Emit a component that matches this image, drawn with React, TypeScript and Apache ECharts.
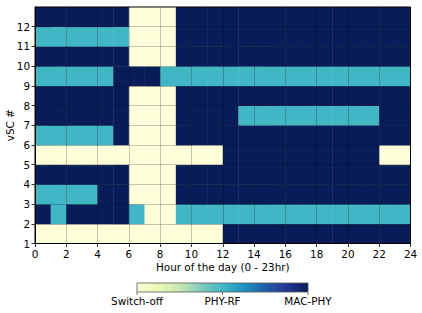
import React, { useEffect, useRef } from "react";
import * as echarts from "echarts";

// Hour-of-day columns 0..23, rows vSC 1..12; 0 = Switch-off, 1 = PHY-RF, 2 = MAC-PHY
const hourTicks = [0, 2, 4, 6, 8, 10, 12, 14, 16, 18, 20, 22, 24];
const vscTicks = [1, 2, 3, 4, 5, 6, 7, 8, 9, 10, 11, 12];
const stateLabels = ["Switch-off", "PHY-RF", "MAC-PHY"];

const vsc1 = [0, 0, 0, 0, 0, 0, 0, 0, 0, 0, 0, 0, 2, 2, 2, 2, 2, 2, 2, 2, 2, 2, 2, 2];
const vsc2 = [2, 1, 2, 2, 2, 2, 1, 0, 0, 1, 1, 1, 1, 1, 1, 1, 1, 1, 1, 1, 1, 1, 1, 1];
const vsc3 = [1, 1, 1, 1, 2, 2, 0, 0, 0, 2, 2, 2, 2, 2, 2, 2, 2, 2, 2, 2, 2, 2, 2, 2];
const vsc4 = [2, 2, 2, 2, 2, 2, 0, 0, 0, 2, 2, 2, 2, 2, 2, 2, 2, 2, 2, 2, 2, 2, 2, 2];
const vsc5 = [0, 0, 0, 0, 0, 0, 0, 0, 0, 0, 0, 0, 2, 2, 2, 2, 2, 2, 2, 2, 2, 2, 0, 0];
const vsc6 = [1, 1, 1, 1, 1, 2, 0, 0, 0, 2, 2, 2, 2, 2, 2, 2, 2, 2, 2, 2, 2, 2, 2, 2];
const vsc7 = [2, 2, 2, 2, 2, 2, 0, 0, 0, 2, 2, 2, 2, 1, 1, 1, 1, 1, 1, 1, 1, 1, 2, 2];
const vsc8 = [2, 2, 2, 2, 2, 2, 0, 0, 0, 2, 2, 2, 2, 2, 2, 2, 2, 2, 2, 2, 2, 2, 2, 2];
const vsc9 = [1, 1, 1, 1, 1, 2, 2, 2, 1, 1, 1, 1, 1, 1, 1, 1, 1, 1, 1, 1, 1, 1, 1, 1];
const vsc10 = [2, 2, 2, 2, 2, 2, 0, 0, 0, 2, 2, 2, 2, 2, 2, 2, 2, 2, 2, 2, 2, 2, 2, 2];
const vsc11 = [1, 1, 1, 1, 1, 1, 0, 0, 0, 2, 2, 2, 2, 2, 2, 2, 2, 2, 2, 2, 2, 2, 2, 2];
const vsc12 = [2, 2, 2, 2, 2, 2, 0, 0, 0, 2, 2, 2, 2, 2, 2, 2, 2, 2, 2, 2, 2, 2, 2, 2];

const rows = [vsc1, vsc2, vsc3, vsc4, vsc5, vsc6, vsc7, vsc8, vsc9, vsc10, vsc11, vsc12];

const YlGnBu = ["#ffffd9", "#edf8b1", "#c7e9b4", "#7fcdbb", "#41b6c4", "#1d91c0", "#225ea8", "#253494", "#081d58"];
const stateColors = ["#ffffd9", "#41b6c4", "#081d58"];

const FONT = "DejaVu Sans";
const FS = 10.4;

export default function App() {
  const ref = useRef<HTMLDivElement>(null);
  useEffect(() => {
    if (!ref.current) return;
    const chart = echarts.init(ref.current, null, { renderer: "svg" });
    const data: number[][] = [];
    rows.forEach((row, ri) => {
      row.forEach((v, h) => data.push([h, vscTicks[ri], v]));
    });
    const cbLeft = 137, cbRight = 308, cbTop = 283, cbH = 9;
    const cbW = cbRight - cbLeft;
    const graphics: any[] = [
      {
        type: "rect",
        shape: { x: cbLeft, y: cbTop, width: cbW, height: cbH },
        style: {
          fill: new echarts.graphic.LinearGradient(
            0, 0, 1, 0,
            YlGnBu.map((c, i) => ({ offset: i / (YlGnBu.length - 1), color: c }))
          ),
          stroke: "#555",
          lineWidth: 0.8,
        },
      },
    ];
    stateLabels.forEach((lab, i) => {
      const x = cbLeft + (cbW * i) / (stateLabels.length - 1);
      graphics.push({
        type: "line",
        shape: { x1: x, y1: cbTop + cbH, x2: x, y2: cbTop + cbH + 3 },
        style: { stroke: "#555", lineWidth: 0.8 },
      });
      graphics.push({
        type: "text",
        x,
        y: cbTop + cbH + 4,
        style: {
          text: lab,
          fontFamily: FONT,
          fontSize: FS,
          fill: "#000",
          align: "center",
          verticalAlign: "top",
        },
      });
    });
    chart.setOption({
      animation: false,
      grid: {
        left: 35,
        right: 11.5,
        top: 7,
        bottom: 69.5,
        outerBoundsMode: "none",
        containLabel: false,
        show: true,
        backgroundColor: "transparent",
        borderColor: "#000",
        borderWidth: 1,
        z: 6,
      },
      xAxis: {
        type: "value",
        min: 0,
        max: 24,
        interval: 2,
        z: 5,
        name: "Hour of the day (0 - 23hr)",
        nameLocation: "middle",
        nameGap: 18,
        nameMoveOverlap: false,
        nameTextStyle: { fontFamily: FONT, fontSize: FS, color: "#000" },
        axisLine: { show: true, onZero: false, lineStyle: { color: "#000", width: 1 } },
        axisTick: { show: true, length: 3.5, lineStyle: { color: "#000", width: 0.8 } },
        axisLabel: { fontFamily: FONT, fontSize: FS, color: "#000", margin: 5 },
        splitLine: { show: true, lineStyle: { color: "rgba(0,0,0,0.28)", width: 0.8 } },
      },
      yAxis: {
        type: "value",
        min: 1,
        max: 13,
        interval: 1,
        z: 5,
        name: "vSC #",
        nameLocation: "middle",
        nameGap: 20,
        nameMoveOverlap: false,
        nameTextStyle: { fontFamily: FONT, fontSize: FS, color: "#000" },
        axisLine: { show: true, onZero: false, lineStyle: { color: "#000", width: 1 } },
        axisTick: { show: true, length: 3.5, customValues: vscTicks, lineStyle: { color: "#000", width: 0.8 } },
        axisLabel: {
          fontFamily: FONT,
          fontSize: FS,
          color: "#000",
          margin: 5,
          customValues: vscTicks,
        },
        splitLine: { show: true, lineStyle: { color: "rgba(0,0,0,0.28)", width: 0.8 } },
      },
      series: [
        {
          type: "custom",
          z: 1,
          data,
          encode: { x: 0, y: 1 },
          renderItem: (params: any, api: any) => {
            const x = api.value(0);
            const y = api.value(1);
            const v = api.value(2);
            const p0 = api.coord([x, y + 1]);
            const p1 = api.coord([x + 1, y]);
            return {
              type: "rect",
              shape: {
                x: p0[0],
                y: p0[1],
                width: p1[0] - p0[0] + 0.4,
                height: p1[1] - p0[1] + 0.4,
              },
              style: { fill: stateColors[v], stroke: null },
            };
          },
        },
      ],
      graphic: graphics,
    });
    return () => chart.dispose();
  }, []);
  return (
    <div
      ref={ref}
      style={{ position: "absolute", left: 0, top: 0, width: 422, height: 313 }}
    />
  );
}
